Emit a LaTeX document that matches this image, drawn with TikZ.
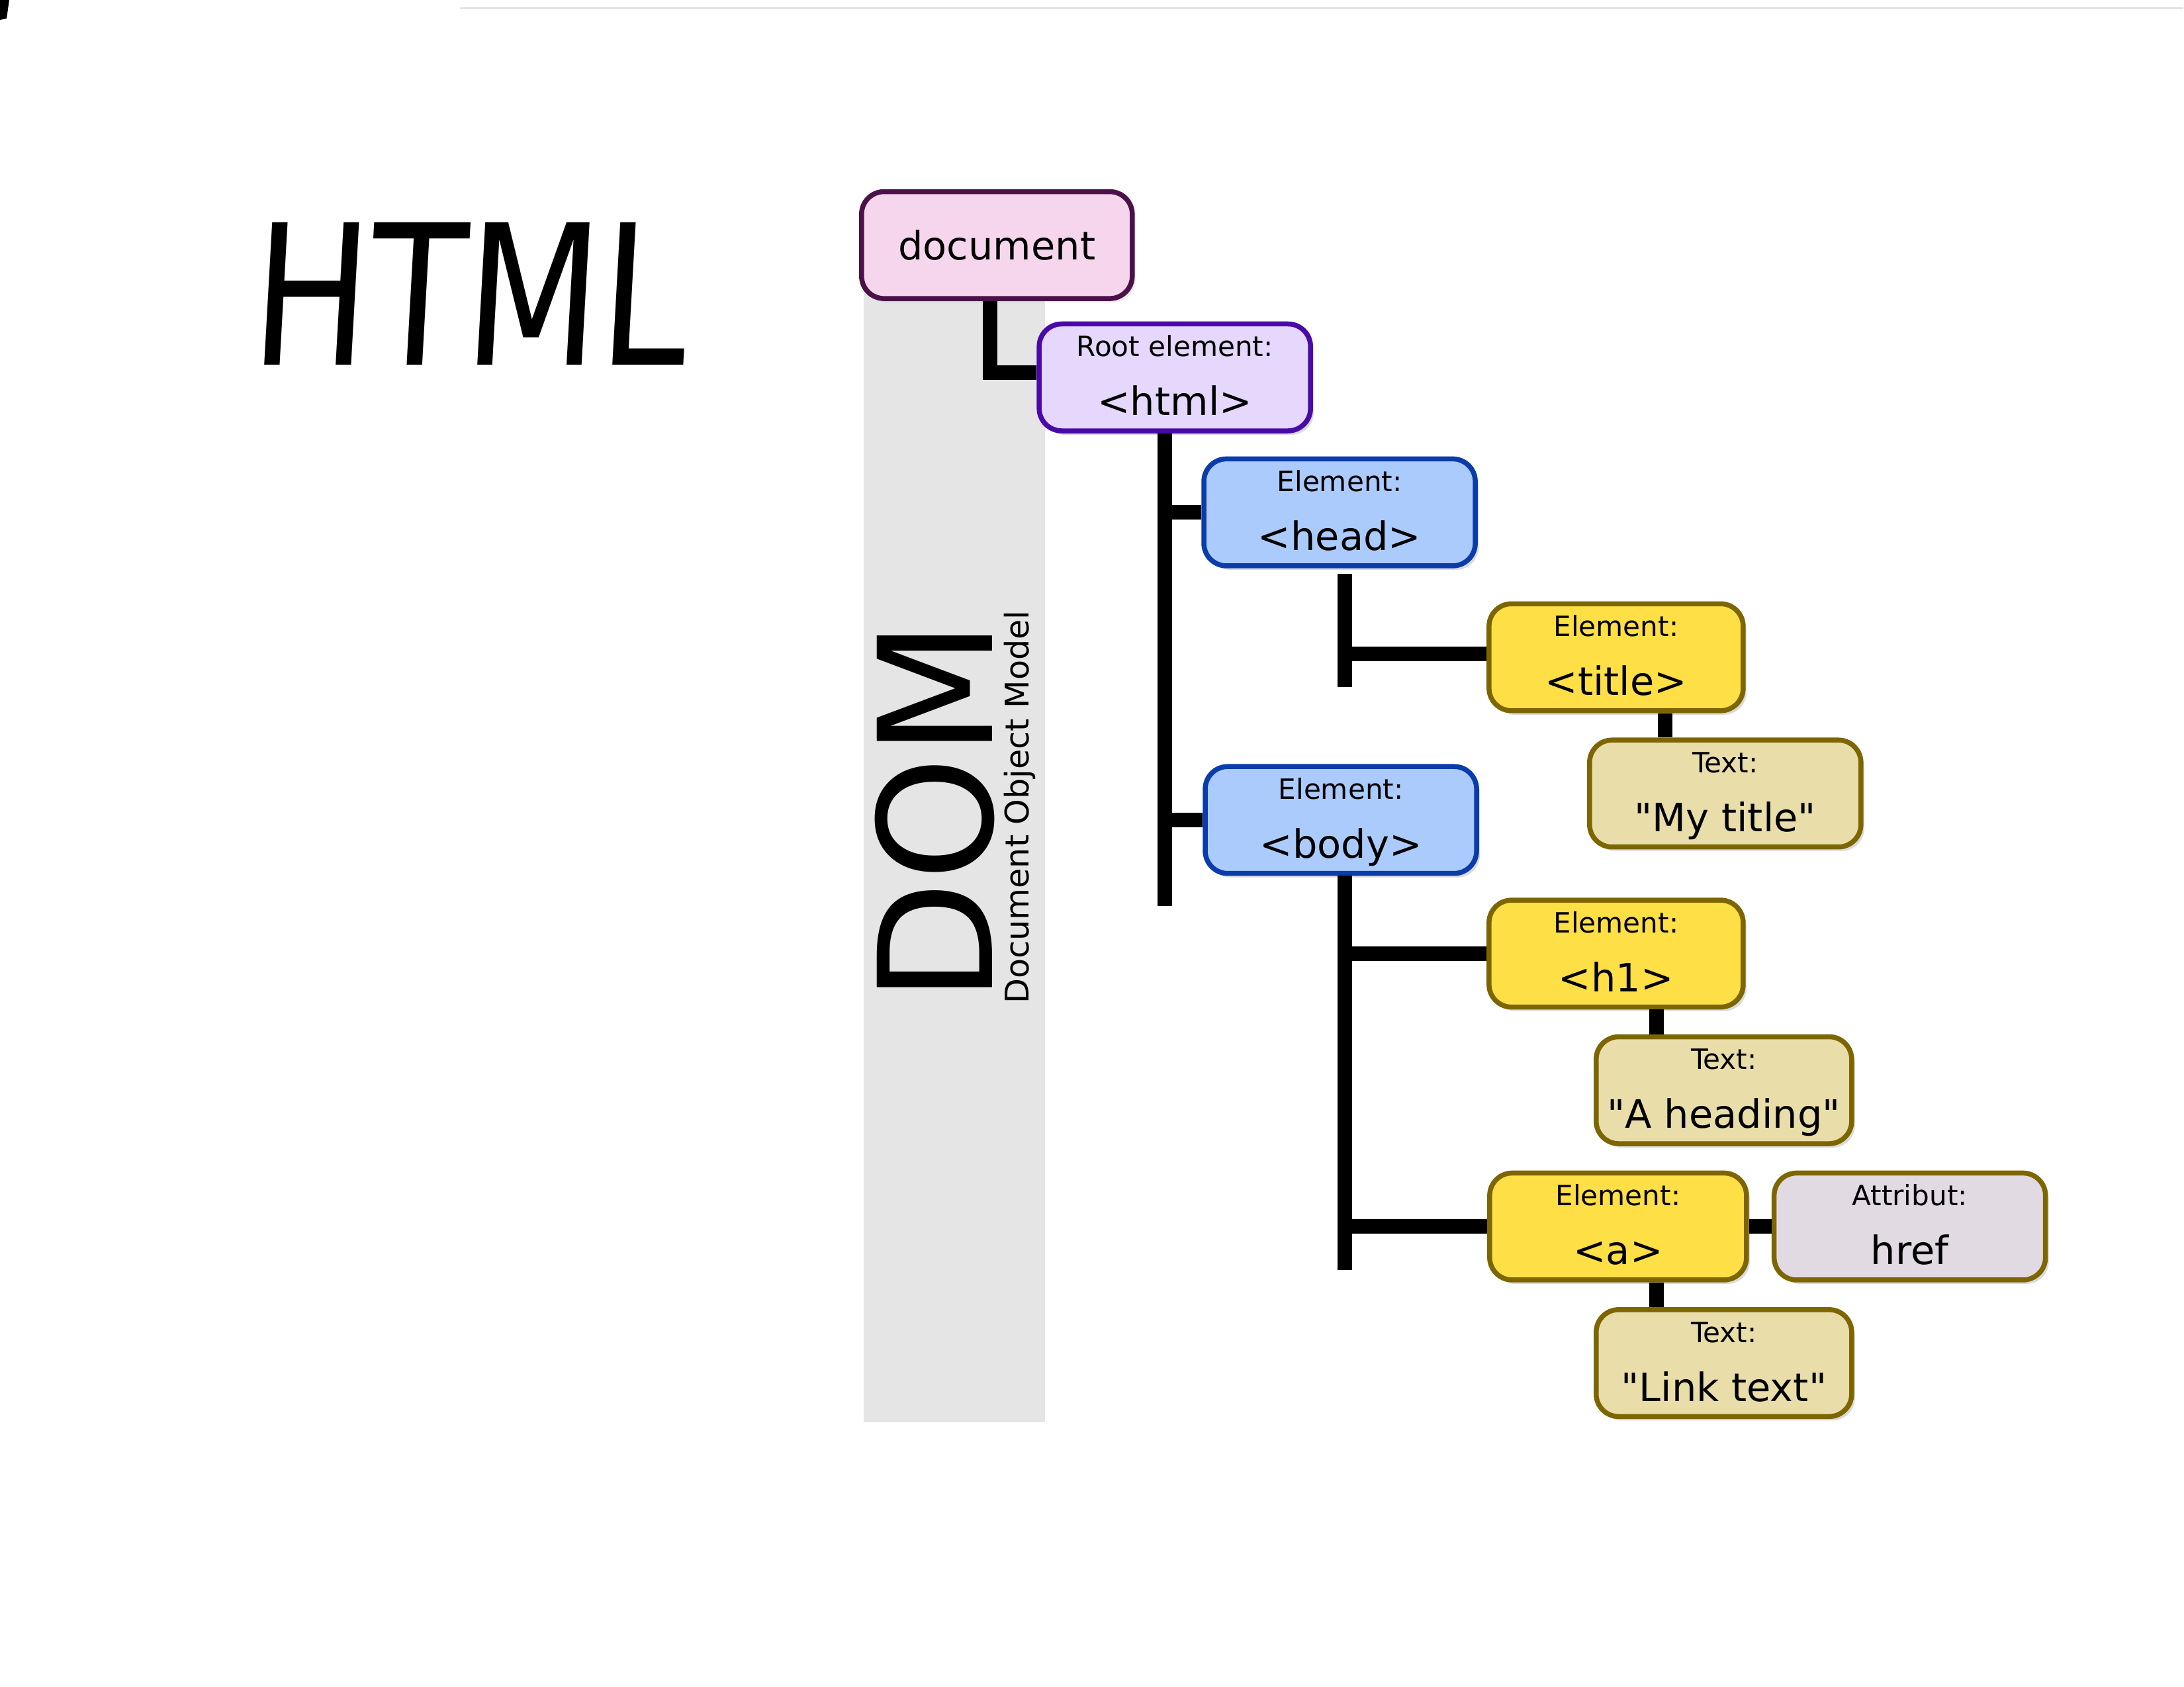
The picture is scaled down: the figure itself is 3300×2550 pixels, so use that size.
\documentclass[tikz,border=0pt]{standalone}
\usepackage{fontspec}
\setmainfont{DejaVu Sans}
\newfontfamily\dejavu{DejaVu Sans}
\usetikzlibrary{shadows}
\definecolor{docfill}{HTML}{F6D6EC}
\definecolor{docline}{HTML}{4B1248}
\definecolor{htmlfill}{HTML}{E6D7FC}
\definecolor{htmlline}{HTML}{4A0AAA}
\definecolor{elfill}{HTML}{ABCBFC}
\definecolor{elline}{HTML}{0A3CAA}
\definecolor{yelfill}{HTML}{FFDF46}
\definecolor{oliveline}{HTML}{7D6600}
\definecolor{txtfill}{HTML}{E9DEAA}
\definecolor{attfill}{HTML}{E1DAE3}
\definecolor{bandgray}{HTML}{E5E5E5}
\newcommand\dombox[7]{%
  \node[box,#2,minimum width=#5] (#1) at (#3,#4) {};
  \path (#1.north) ++(0,53) node[lbl] (#1-l) {#6} ++(0,89) node[val] (#1-v) {#7};
}
\begin{document}
\begin{tikzpicture}[x=0.01cm,y=-0.01cm,
  box/.style={draw, line width=0.075cm, rounded corners=0.34cm, minimum height=1.615cm, inner sep=0,
    drop shadow={opacity=0.15, shadow xshift=0.05cm, shadow yshift=-0.06cm}},
  docbox/.style={box, fill=docfill, draw=docline},
  rootbox/.style={box, fill=htmlfill, draw=htmlline},
  elbox/.style={box, fill=elfill, draw=elline},
  yelbox/.style={box, fill=yelfill, draw=oliveline},
  txtbox/.style={box, fill=txtfill, draw=oliveline},
  attbox/.style={box, fill=attfill, draw=oliveline},
  conn/.style={line width=0.22cm, black, line join=miter},
  lbl/.style={font=\dejavu\fontsize{12}{14}\selectfont, inner sep=0, anchor=base},
  val/.style={font=\dejavu\fontsize{16.8}{20}\selectfont, inner sep=0, anchor=base}]
\fill[white] (0,0) rectangle (3300,2550);
% scan artefacts
\draw[gray!22, line width=0.03cm] (695,12) -- (3300,12);
\fill[black] (0,0) -- (14,0) -- (10,28) -- (0,30) -- cycle;
% handwritten title
\node[font=\dejavu\fontsize{84}{90}\selectfont, inner sep=0, xscale=0.8, xslant=0.07] (htmltitle) at (712,444) {HTML};
% grey band
\fill[bandgray] (1306,420) rectangle (1580,2150);
\node[font=\dejavu\fontsize{68}{72}\selectfont, rotate=90, anchor=base west, inner sep=0] (dom) at (1500,1517) {DOM};
\node[font=\dejavu\fontsize{14}{17}\selectfont, rotate=90, anchor=base west, inner sep=0] (domsub) at (1555,1518) {Document Object Model};
% boxes
\node[docbox, minimum width=4.09cm, font=\dejavu\fontsize{16.8}{20}\selectfont] (doc) at (1507,370.5) {document};
\dombox{html}{rootbox}{1776}{570.5}{4.10cm}{Root element:}{<html>}
\dombox{head}{elbox}{2025}{774.5}{4.10cm}{Element:}{<head>}
\dombox{title}{yelbox}{2443}{993.5}{3.84cm}{Element:}{<title>}
\dombox{mytitle}{txtbox}{2608}{1199.5}{4.10cm}{Text:}{"My title"}
\dombox{body}{elbox}{2027}{1239.5}{4.10cm}{Element:}{<body>}
\dombox{h1}{yelbox}{2443}{1441.5}{3.84cm}{Element:}{<h1>}
\dombox{heading}{txtbox}{2606}{1648}{3.86cm}{Text:}{"A heading"}
\dombox{a}{yelbox}{2446}{1854}{3.88cm}{Element:}{<a>}
\dombox{href}{attbox}{2887}{1854}{4.10cm}{Attribut:}{href}
\dombox{link}{txtbox}{2606}{2060.5}{3.86cm}{Text:}{"Link text"}
% connectors
\coordinate (dcorner) at (1497,563);
\draw[conn] (dcorner |- doc.south) -- (dcorner) -- (dcorner -| html.west);
\coordinate (hxbot) at (1761,1370);
\draw[conn] (hxbot |- html.south) -- (hxbot);
\draw[conn] (hxbot |- head.west) -- (head.west);
\draw[conn] (hxbot |- body.west) -- (body.west);
\coordinate (txtop) at (2033,867);
\coordinate (txbot) at (2033,1038);
\draw[conn] (txtop) -- (txbot);
\draw[conn] ([yshift=1.5pt]txtop |- title.west) -- ([yshift=1.5pt]title.west);
\coordinate (mx) at (2517,0);
\draw[conn] (mx |- title.south) -- (mx |- mytitle.north);
\coordinate (bxbot) at (2033,1920);
\draw[conn] (bxbot |- body.south) -- (bxbot);
\draw[conn] (bxbot |- h1.west) -- (h1.west);
\draw[conn] (bxbot |- a.west) -- (a.west);
\coordinate (cx) at (2504,0);
\draw[conn] (cx |- h1.south) -- (cx |- heading.north);
\draw[conn] (cx |- a.south) -- (cx |- link.north);
\draw[conn] (a.east) -- (href.west);
\end{tikzpicture}
\end{document}
